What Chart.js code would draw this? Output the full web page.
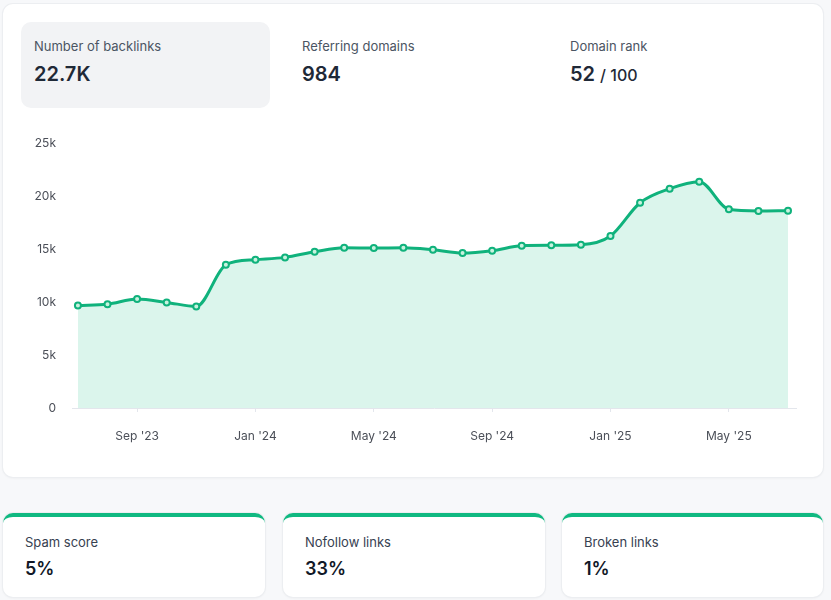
<!DOCTYPE html>
<html>
<head>
<meta charset="utf-8">
<title>Backlinks</title>
<script src="https://cdn.jsdelivr.net/npm/chart.js@4.4.1/dist/chart.umd.min.js"></script>
<style>
  body { margin: 0; background: #f7f8fa; font-family: Inter, "Noto Sans", sans-serif; width: 831px; height: 600px; position: relative; overflow: hidden; }
  .card { position: absolute; background: #fff; border-radius: 10px; box-shadow: 0 0 0 1px #eceef1, 0 1px 3px rgba(0,0,0,0.06); }
  .tile { position: absolute; top: 18px; width: 249px; height: 86px; border-radius: 10px; }
  .tile.active { background: #f2f3f5; }
  .lbl { position: absolute; left: 13px; top: 16px; font-size: 13px; color: #4b5563; }
  .val { position: absolute; left: 13px; top: 40px; font-size: 20px; font-weight: 600; color: #1f2937; }
  .val small { font-size: 16px; font-weight: 500; }
  .chartbox { position: absolute; left: 17px; top: 124px; width: 793px; height: 335px; }
  .mini { position: absolute; top: 513px; height: 80px; border-top: 4px solid #10b981; }
  .mini .lbl { left: 22px; top: 17px; color: #374151; }
  .mini .val { left: 22px; top: 41px; font-size: 18px; color: #111827; }
</style>
</head>
<body>
<div class="card" style="left:3px;top:4px;width:820px;height:473px;">
  <div class="tile active" style="left:18px;"><div class="lbl">Number of backlinks</div><div class="val">22.7K</div></div>
  <div class="tile" style="left:286px;"><div class="lbl">Referring domains</div><div class="val">984</div></div>
  <div class="tile" style="left:554px;"><div class="lbl">Domain rank</div><div class="val">52 <small>/ 100</small></div></div>
  <div class="chartbox"><canvas id="myChart"></canvas></div>
</div>
<div class="card mini" style="left:3px;width:262px;"><div class="lbl">Spam score</div><div class="val">5%</div></div>
<div class="card mini" style="left:283px;width:262px;"><div class="lbl">Nofollow links</div><div class="val">33%</div></div>
<div class="card mini" style="left:562px;width:261px;"><div class="lbl">Broken links</div><div class="val">1%</div></div>

<script>
// monthly backlinks, Jul '23 .. Jul '25
var months = ["Jul '23","Aug '23","Sep '23","Oct '23","Nov '23","Dec '23",
  "Jan '24","Feb '24","Mar '24","Apr '24","May '24","Jun '24","Jul '24","Aug '24","Sep '24","Oct '24","Nov '24","Dec '24",
  "Jan '25","Feb '25","Mar '25","Apr '25","May '25","Jun '25","Jul '25"];
var backlinks = [9680, 9800, 10280, 9970, 9590, 13520,
  14000, 14220, 14750, 15130, 15100, 15130, 14940, 14630, 14850, 15320, 15360, 15410,
  16240, 19380, 20710, 21370, 18760, 18600, 18630];
var tickMonths = ["Sep '23","Jan '24","May '24","Sep '24","Jan '25","May '25"];
var green = "#10b27c";

var points = backlinks.map(function(v, i) { return {x: i, y: v}; });
var tickIdx = tickMonths.map(function(m) { return months.indexOf(m); });

new Chart("myChart", {
  type: "line",
  data: {
    datasets: [{
      data: points,
      borderColor: green,
      borderWidth: 3,
      backgroundColor: "rgba(16,185,129,0.15)",
      fill: "origin",
      cubicInterpolationMode: "monotone",
      pointRadius: 3,
      pointBorderWidth: 2,
      pointBorderColor: green,
      pointBackgroundColor: "#c9f2df"
    }]
  },
  options: {
    responsive: true,
    maintainAspectRatio: false,
    animation: false,
    layout: {padding: {top: 7, right: 17, bottom: 0, left: 0}},
    plugins: {legend: {display: false}, tooltip: {enabled: false}},
    scales: {
      x: {
        type: "linear",
        min: -0.2,
        max: 24.27,
        afterBuildTicks: function(scale) {
          scale.ticks = tickIdx.map(function(v) { return {value: v}; });
        },
        afterFit: function(scale) { scale.height = 55; },
        border: {display: true, color: "#e3e6ec"},
        grid: {drawOnChartArea: false, drawTicks: true, tickLength: 4, color: "#e3e6ec"},
        ticks: {
          padding: 17,
          color: "#4b4f58",
          font: {family: "Inter, 'Noto Sans', sans-serif", size: 12},
          maxRotation: 0,
          callback: function(v) { return months[v]; }
        }
      },
      y: {
        min: 0,
        max: 25000,
        afterFit: function(scale) { scale.width = 52; },
        border: {display: false},
        grid: {display: false},
        ticks: {
          stepSize: 5000,
          padding: 8,
          color: "#4b4f58",
          font: {family: "Inter, 'Noto Sans', sans-serif", size: 12},
          callback: function(v) { return v === 0 ? "0" : (v / 1000) + "k"; }
        }
      }
    }
  }
});
</script>
</body>
</html>
